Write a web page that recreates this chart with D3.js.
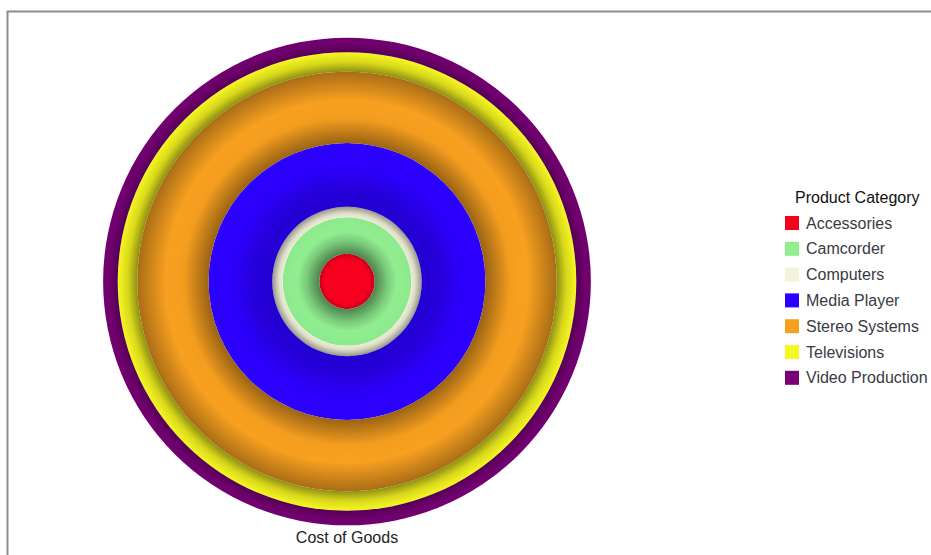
<!DOCTYPE html>
<html>
<head>
<meta charset="utf-8">
<script src="https://cdn.jsdelivr.net/npm/d3@7"></script>
<style>
  html, body { margin: 0; padding: 0; background: #fff; }
  svg { display: block; font-family: "Liberation Sans", Arial, sans-serif; }
</style>
</head>
<body>
<svg id="chart" width="931" height="555"></svg>
<script>
// Cost of Goods by product category, drawn as nested rings (innermost first)
const categories = ["Accessories", "Camcorder", "Computers", "Media Player",
                    "Stereo Systems", "Televisions", "Video Production"];
const costOfGoods = [27.7, 36.6, 10.4, 63.7, 71.2, 19.6, 14.5];
const colors = ["#f5001f", "#90ee90", "#f3f3dc", "#2b00ff",
                "#f8a020", "#f6f620", "#7a0078"];
const legendTitle = "Product Category";
const axisTitle = "Cost of Goods";

// shading profile across each ring: [position across band, darkness]
const shading = [
  [[0, 0], [0.8, 0], [1, 0.18]],
  [[0, 0.45], [0.35, 0.15], [0.6, 0], [1, 0.02]],
  [[0, 0.03], [0.35, 0.08], [1, 0.38]],
  [[0, 0.18], [0.3, 0.14], [0.6, 0.02], [1, 0]],
  [[0, 0.38], [0.35, 0.02], [0.6, 0], [1, 0.32]],
  [[0, 0.42], [0.5, 0.12], [1, 0]],
  [[0, 0.3], [0.5, 0.12], [1, 0.05]]
];

const svg = d3.select("#chart");
const W = 931, H = 555;
const cx = 347, cy = 281.5, maxR = 243.8;

// frame
svg.append("path")
  .attr("d", `M7.5,${H + 5}V11.5H${W + 5}`)
  .attr("fill", "none").attr("stroke", "#8c8c8c").attr("stroke-width", 2);

// cumulative radii
let acc = 0;
const rings = categories.map((c, i) => {
  const r0 = acc; acc += costOfGoods[i];
  return { cat: c, color: colors[i], v0: r0, v1: acc, prof: shading[i] };
});
const r = d3.scaleLinear().domain([0, d3.sum(costOfGoods)]).range([0, maxR]);

const defs = svg.append("defs");
rings.forEach((d, i) => {
  const r0 = r(d.v0), r1 = r(d.v1);
  const g = defs.append("radialGradient")
    .attr("id", "ring" + i)
    .attr("gradientUnits", "userSpaceOnUse")
    .attr("cx", 0).attr("cy", 0).attr("fx", 0).attr("fy", 0).attr("r", r1);
  d.prof.forEach(([t, k]) => {
    g.append("stop")
      .attr("offset", (r0 + t * (r1 - r0)) / r1)
      .attr("stop-color", d3.interpolateRgb(d.color, "#000")(k));
  });
});

const arc = d3.arc().startAngle(0).endAngle(2 * Math.PI)
  .innerRadius(d => r(d.v0)).outerRadius(d => r(d.v1));

const plot = svg.append("g").attr("transform", `translate(${cx},${cy})`);
plot.selectAll("path.ring").data(rings).join("path")
  .attr("class", "ring")
  .attr("d", arc)
  .attr("fill", (d, i) => `url(#ring${i})`);

// axis title under the rings
svg.append("text")
  .attr("x", cx).attr("y", 543)
  .attr("text-anchor", "middle")
  .attr("font-size", 16).attr("fill", "#222")
  .text(axisTitle);

// legend
const lg = svg.append("g").attr("transform", "translate(785,0)");
lg.append("text")
  .attr("x", 10).attr("y", 203)
  .attr("font-size", 16).attr("fill", "#111")
  .text(legendTitle);
const item = lg.selectAll("g.item").data(categories).join("g")
  .attr("class", "item")
  .attr("transform", (d, i) => `translate(0,${223 + i * 25.8})`);
item.append("rect")
  .attr("x", 0).attr("y", -7).attr("width", 14).attr("height", 14)
  .attr("fill", (d, i) => colors[i]);
item.append("text")
  .attr("x", 21).attr("y", 5.5)
  .attr("font-size", 16).attr("fill", "#3a3a44")
  .text(d => d);
</script>
</body>
</html>
